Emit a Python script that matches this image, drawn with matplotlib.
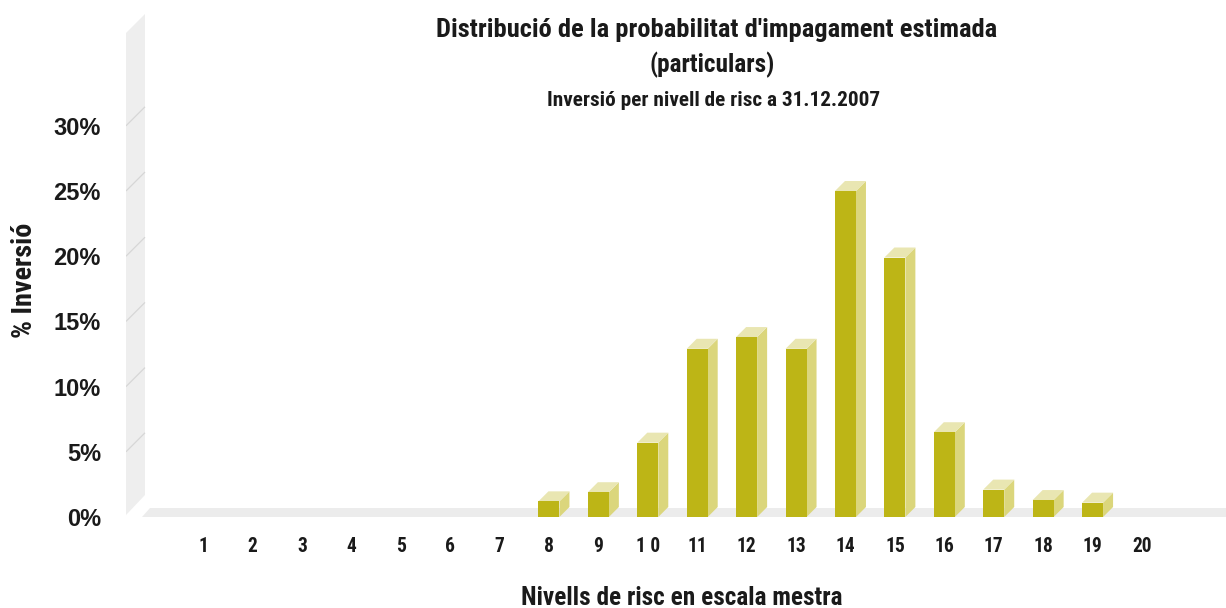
import matplotlib
matplotlib.use("Agg")
import matplotlib.pyplot as plt
from matplotlib.patches import Polygon
from matplotlib import font_manager

# ---------------- data ----------------
levels = list(range(1, 21))
level_labels = ["1", "2", "3", "4", "5", "6", "7", "8", "9", "1 0",
                "11", "12", "13", "14", "15", "16", "17", "18", "19", "20"]
inversio_pct = [0, 0, 0, 0, 0, 0, 0, 1.2, 1.9, 5.7,
                12.9, 13.8, 12.9, 25.0, 19.9, 6.5, 2.1, 1.3, 1.1, 0]
y_ticks = [0, 5, 10, 15, 20, 25, 30]
y_tick_labels = ["0%", "5%", "10%", "15%", "20%", "25%", "30%"]

title1 = "Distribució de la probabilitat d'impagament estimada"
title2 = "(particulars)"
title3 = "Inversió per nivell de risc a 31.12.2007"
x_label = "Nivells de risc en escala mestra"
y_label = "% Inversió"

# ---------------- fonts ----------------
names = {f.name for f in font_manager.fontManager.ttflist}
cond = [f for f in font_manager.fontManager.ttflist
        if f.name == "DejaVu Sans" and str(f.stretch) in ("condensed", "semi-condensed")]
STRETCH = "normal"
NARROW = None
for cand in ["Liberation Sans Narrow", "Roboto Condensed", "Open Sans Condensed",
             "DejaVu Sans Condensed"]:
    if cand in names:
        NARROW = cand
        break
if NARROW is None:
    if cond:
        NARROW = "DejaVu Sans"
        STRETCH = "condensed"
    else:
        NARROW = "Liberation Sans"
NARROW_L = [NARROW, "DejaVu Sans"]
WIDE = ["Liberation Sans", "DejaVu Sans"]

# ---------------- style ----------------
FRONT = "#bdb516"
SIDE = "#dbd67c"
TOP = "#e9e6b2"
WALL = "#eeeeee"
FLOOR = "#ececec"
GRID = "#d6d6d6"
TXT = "#1a1a1a"

W, H = 1226, 608
fig = plt.figure(figsize=(W / 100, H / 100), dpi=100)
fig.patch.set_facecolor("white")

L, R, T, B = 126, 1226, 14, 517
ax = fig.add_axes([L / W, 1 - B / H, (R - L) / W, (B - T) / H])
PX_X = 49.42
PX_Y = 13.04
ax.set_xlim(1 - (203 - L) / PX_X, 1 + (R - 203) / PX_X)
ax.set_ylim(0 - (B - 517) / PX_Y, (517 - T) / PX_Y)
x0 = ax.get_xlim()[0]

def px(dx):
    return dx / PX_X

def py(dy):
    return dy / PX_Y

# back wall
wall_d = 19
wall = Polygon([(x0, 0.15), (x0, py(517 - 33)), (x0 + px(wall_d), py(517 - 14)),
                (x0 + px(wall_d), py(517 - 495))],
               closed=True, facecolor=WALL, edgecolor="none", zorder=1)
ax.add_patch(wall)
for t in y_ticks[1:]:
    ax.plot([x0, x0 + px(wall_d)], [t, t + py(wall_d)], color=GRID, lw=0.9,
            zorder=2, solid_capstyle="butt")

# floor
xr = ax.get_xlim()[1] + 1
floor = Polygon([(x0 + px(16), 0), (xr, 0), (xr, py(9.5)), (x0 + px(24), py(9.5))],
                closed=True, facecolor=FLOOR, edgecolor="none", zorder=1)
ax.add_patch(floor)

# 3D bars
hw = px(10.5)
ddx, ddy = px(10), py(10)
for xv, v in zip(levels, inversio_pct):
    if v <= 0:
        continue
    side = Polygon([(xv + hw, 0), (xv + hw + ddx, ddy), (xv + hw + ddx, v + ddy), (xv + hw, v)],
                   closed=True, facecolor=SIDE, edgecolor="none", zorder=3)
    top = Polygon([(xv - hw, v), (xv + hw, v), (xv + hw + ddx, v + ddy), (xv - hw + ddx, v + ddy)],
                  closed=True, facecolor=TOP, edgecolor="none", zorder=3)
    ax.add_patch(side)
    ax.add_patch(top)
    ax.bar(xv, v, width=2 * hw, color=FRONT, edgecolor="none", zorder=4)

for s in ax.spines.values():
    s.set_visible(False)
ax.set_yticks(y_ticks, y_tick_labels)
ax.set_xticks(levels, level_labels)
ax.tick_params(axis="y", length=0, pad=18, labelsize=17, labelcolor=TXT)
ax.tick_params(axis="x", length=0, pad=14.5, labelsize=12.5, labelcolor=TXT)
for lab in ax.get_yticklabels():
    lab.set_family(WIDE)
    lab.set_fontweight("bold")
for lab in ax.get_xticklabels():
    lab.set_family(NARROW_L)
    lab.set_stretch(STRETCH)
    lab.set_fontweight("bold")

xl = ax.set_xlabel(x_label, family=NARROW_L, stretch=STRETCH, fontsize=17,
                   fontweight="bold", color=TXT, va="center")
ax.xaxis.set_label_coords((682 - L) / (R - L), (517 - 598) / (B - T))
yl = ax.set_ylabel(y_label, family=NARROW_L, stretch=STRETCH, fontsize=17,
                   fontweight="bold", color=TXT, va="center")
ax.yaxis.set_label_coords((25 - L) / (R - L), (517 - 280) / (B - T))

t1 = fig.text(717 / W, 1 - 30 / H, title1, family=NARROW_L, stretch=STRETCH, fontsize=17,
              fontweight="bold", color=TXT, ha="center", va="center")
t2 = fig.text(712 / W, 1 - 65 / H, title2, family=NARROW_L, stretch=STRETCH, fontsize=17,
              fontweight="bold", color=TXT, ha="center", va="center")
t3 = fig.text(714 / W, 1 - 100 / H, title3, family=NARROW_L, stretch=STRETCH, fontsize=13.5,
              fontweight="bold", color=TXT, ha="center", va="center")

# fit text widths (in pixels) to the reference layout
fig.canvas.draw()
rend = fig.canvas.get_renderer()
for txt, target, horiz in [(t1, 560, True), (t2, 125, True), (t3, 333, True),
                           (xl, 321, True), (yl, 115, False)]:
    bb = txt.get_window_extent(rend)
    cur = bb.width if horiz else bb.height
    txt.set_fontsize(txt.get_fontsize() * target / cur)
xt_target = 20.0
bb = ax.get_xticklabels()[-1].get_window_extent(rend)
xs = 12.5 * xt_target / bb.width
for lab in ax.get_xticklabels():
    lab.set_fontsize(xs)

fig.savefig("out.png", dpi=100, facecolor="white")
